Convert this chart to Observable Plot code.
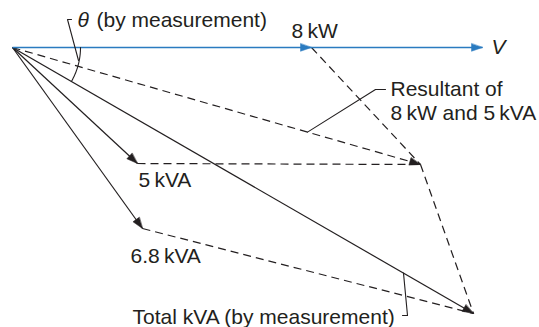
<!DOCTYPE html>
<html><head><meta charset="utf-8">
<script src="https://cdn.jsdelivr.net/npm/d3@7"></script>
<script src="https://cdn.jsdelivr.net/npm/@observablehq/plot@0.6"></script>
<style>
html,body{margin:0;padding:0;background:#fff;}
#chart svg{display:block;}
</style>
</head><body><div id="chart"></div>
<script>
// Phasor diagram points (drawing units, origin at the common tail, y up)
const pointNames = ["O", "P", "V", "A", "R", "B", "T"];
const pointX = [0, 299, 470, 125, 408, 130, 461];
const pointY = [0, 0, 0, -116, -117, -181, -266];

// Segments
const blueSegments = [["O", "V"]];
const solidSegments = [["O", "A"], ["O", "B"], ["O", "T"]];
const dashedSegments = [["O", "R"], ["A", "R"], ["P", "R"], ["R", "T"], ["B", "T"]];
// Arrowheads: [from, to]
const blueArrows = [["O", "P"], ["O", "V"]];
const blackArrows = [["O", "A"], ["O", "B"], ["O", "R"], ["O", "T"]];

// Texts
const labelTexts = ["8\u2009kW", "5\u2009kVA", "6.8\u2009kVA", "Resultant of", "8\u2009kW and 5\u2009kVA", "Total kVA (by measurement)", "(by measurement)"];
const italicTexts = ["V", "θ"];

// ---------- layout ----------
const pt = Object.fromEntries(pointNames.map((n, i) => [n, {x: pointX[i], y: pointY[i]}]));
const BLUE = "#2a7bc0";
const INK = "#231f20";
const FONT = "'Liberation Sans', Arial, Helvetica, sans-serif";
const FS = 21;

const seg = (list) => list.map(([a, b]) => ({x1: pt[a].x, y1: pt[a].y, x2: pt[b].x, y2: pt[b].y}));
const heads = (list) => list.map(([a, b]) => ({
  x: pt[b].x, y: pt[b].y,
  r: Math.atan2(pt[b].x - pt[a].x, pt[b].y - pt[a].y) * 180 / Math.PI
}));

const headShape = {
  draw(context, l) {
    const w = 3.8;
    context.moveTo(0, -l);
    context.lineTo(w, 0);
    context.lineTo(-w, 0);
    context.closePath();
  }
};

const labelPos = [
  [279, 16], [126, -133], [118, -209], [378, -42], [378, -66], [120, -270], [84, 27]
];
const labels = labelTexts.map((t, i) => ({t, x: labelPos[i][0], y: labelPos[i][1]}));
const italicPos = [[479, 0], [65, 27]];
const italics = italicTexts.map((t, i) => ({t, x: italicPos[i][0], y: italicPos[i][1]}));

// points along O->R and O->T for leaders
const along = (b, px) => ({x: px, y: pt[b].y * px / pt[b].x});
const rLead = along("R", 295);
const tLead = along("T", 391);
const leaders = [
  [{x: rLead.x, y: rLead.y}, {x: 363, y: -42}, {x: 373, y: -42}],
  [{x: tLead.x, y: tLead.y}, {x: 395, y: -268}, {x: 390, y: -268}],
  [{x: 59, y: 28}, {x: 55, y: 28}, {x: 66, y: -13}]
];

// angle arc between V and total kVA
const thetaT = Math.atan2(pt.T.y, pt.T.x);
const arcR = 68;
const arc = d3.range(0, 41).map(k => {
  const a = thetaT * k / 40;
  return {x: arcR * Math.cos(a), y: arcR * Math.sin(a)};
});

const chart = Plot.plot({
  width: 539,
  height: 327,
  margin: 0,
  x: {domain: [-12, 527], axis: null},
  y: {domain: [-280, 47], axis: null},
  style: {background: "white", color: INK, fontFamily: FONT},
  marks: [
    Plot.link(seg(dashedSegments), {x1: "x1", y1: "y1", x2: "x2", y2: "y2", stroke: INK, strokeWidth: 1.2, strokeDasharray: "8,5"}),
    Plot.link(seg(solidSegments), {x1: "x1", y1: "y1", x2: "x2", y2: "y2", stroke: INK, strokeWidth: 1.2}),
    Plot.link(seg(blueSegments), {x1: "x1", y1: "y1", x2: "x2", y2: "y2", stroke: BLUE, strokeWidth: 1.5}),
    ...leaders.map(l => Plot.line(l, {x: "x", y: "y", stroke: INK, strokeWidth: 1.1})),
    Plot.line(arc, {x: "x", y: "y", stroke: INK, strokeWidth: 1.1}),
    Plot.vector(heads(blackArrows), {x: "x", y: "y", rotate: "r", length: 11, anchor: "end", shape: headShape, fill: INK, stroke: INK, strokeWidth: 0.5}),
    Plot.vector(heads(blueArrows), {x: "x", y: "y", rotate: "r", length: 11, anchor: "end", shape: headShape, fill: BLUE, stroke: BLUE, strokeWidth: 0.5}),
    Plot.text(labels, {x: "x", y: "y", text: "t", textAnchor: "start", fontSize: FS, fill: INK, fontFamily: FONT}),
    Plot.text(italics, {x: "x", y: "y", text: "t", textAnchor: "start", fontSize: FS, fill: INK, fontStyle: "italic", fontFamily: FONT})
  ]
});
document.getElementById("chart").appendChild(chart);
</script>
</body></html>
